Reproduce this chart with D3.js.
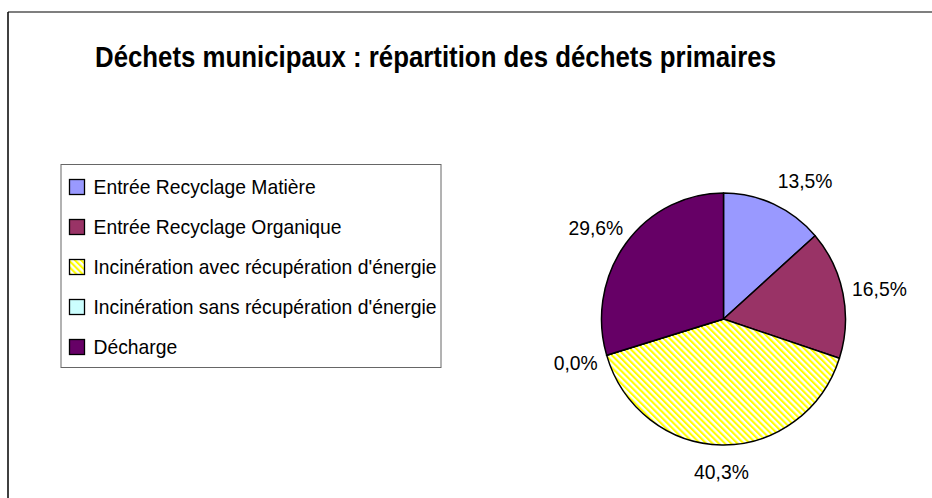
<!DOCTYPE html>
<html>
<head>
<meta charset="utf-8">
<script src="https://cdn.jsdelivr.net/npm/d3@7"></script>
<style>
  html, body { margin: 0; padding: 0; background: #fff; }
  svg { display: block; }
  text { font-family: "Liberation Sans", Arial, sans-serif; fill: #000; }
</style>
</head>
<body>
<svg id="chart" width="932" height="498"></svg>
<script>
// ---- data ----
const title = "Déchets municipaux : répartition des déchets primaires";
const categories = [
  "Entrée Recyclage Matière",
  "Entrée Recyclage Organique",
  "Incinération avec récupération d'énergie",
  "Incinération sans récupération d'énergie",
  "Décharge"
];
const values = [13.5, 16.5, 40.3, 0.0, 29.6];
const valueLabels = ["13,5%", "16,5%", "40,3%", "0,0%", "29,6%"];
const colors = ["#9999ff", "#993366", "hatch", "#ccffff", "#660066"];

// ---- layout ----
const W = 932, H = 498;
const cx = 723.5, cy = 319, rx = 122, ry = 126;
const condense = 0.92;

const svg = d3.select("#chart");
const defs = svg.append("defs");
function makeHatch(id, pre) {
  const p = defs.append("pattern")
    .attr("id", id).attr("patternUnits", "userSpaceOnUse")
    .attr("width", 4.4).attr("height", 4.4)
    .attr("patternTransform", pre + " rotate(-45)");
  p.append("rect").attr("width", 4.4).attr("height", 4.4).attr("fill", "#ffffff");
  p.append("rect").attr("width", 2.1).attr("height", 4.4).attr("fill", "#ffff00");
}
makeHatch("hatch", "");
makeHatch("hatchPie", `scale(${1 / rx},${1 / ry})`);
const fillFor = (i, pieMode) => colors[i] === "hatch"
  ? (pieMode ? "url(#hatchPie)" : "url(#hatch)") : colors[i];

// chart frame (top and left edges)
svg.append("line").attr("x1", 8).attr("y1", 12).attr("x2", W).attr("y2", 12)
  .attr("stroke", "#555").attr("stroke-width", 1.5);
svg.append("line").attr("x1", 8).attr("y1", 12).attr("x2", 8).attr("y2", H)
  .attr("stroke", "#000").attr("stroke-width", 1.5);

function condenseText(sel, f) {
  sel.each(function () {
    const len = this.getComputedTextLength();
    d3.select(this).attr("textLength", len * f).attr("lengthAdjust", "spacingAndGlyphs");
  });
}

// title
svg.append("text")
  .attr("x", 95).attr("y", 67)
  .attr("font-size", 29).attr("font-weight", "bold")
  .text(title)
  .attr("textLength", 681).attr("lengthAdjust", "spacingAndGlyphs");

// legend
const legend = svg.append("g");
legend.append("rect")
  .attr("x", 61).attr("y", 164.5).attr("width", 380).attr("height", 203)
  .attr("fill", "#fff").attr("stroke", "#666").attr("stroke-width", 1);
const rowY = d3.scalePoint().domain(categories).range([194, 354]);
const items = legend.selectAll("g.item").data(categories).join("g").attr("class", "item");
items.append("rect")
  .attr("x", 69.5).attr("y", d => rowY(d) - 14.5)
  .attr("width", 15).attr("height", 15)
  .attr("fill", (d, i) => fillFor(i, false)).attr("stroke", "#000").attr("stroke-width", 1.3);
items.append("text")
  .attr("x", 93.5).attr("y", d => rowY(d))
  .attr("font-size", 21)
  .text(d => d)
  .call(condenseText, condense);

// pie
const pie = d3.pie().sort(null).value(d => d)
  .startAngle(0).endAngle(2 * Math.PI);
const arcs = pie(values);
const arc = d3.arc().innerRadius(0).outerRadius(1);
const pieG = svg.append("g")
  .attr("transform", `translate(${cx},${cy}) scale(${rx},${ry})`);
pieG.selectAll("path").data(arcs).join("path")
  .attr("d", arc)
  .attr("fill", (d, i) => fillFor(i, true))
  .attr("stroke", "#000").attr("stroke-width", 1.5)
  .attr("vector-effect", "non-scaling-stroke")
  .attr("stroke-linejoin", "round");

// value labels: box placed just outside the mid-angle point
const labelNudge = [16, 0, 0, 0, 0];
const lbl = svg.append("g").selectAll("text").data(arcs).join("text")
  .attr("font-size", 21)
  .attr("text-anchor", "middle")
  .text((d, i) => valueLabels[i])
  .call(condenseText, condense);
lbl.each(function (d, i) {
  const a = (d.startAngle + d.endAngle) / 2;
  const s = Math.sin(a), c = Math.cos(a);
  const w = this.getComputedTextLength() * condense, h = 15;
  const px = cx + (rx + 12) * s + (w / 2) * s + labelNudge[i];
  const py = cy - (ry + 19) * c - (h / 2) * c;
  d3.select(this).attr("x", px).attr("y", py + h / 2);
});
</script>
</body>
</html>
